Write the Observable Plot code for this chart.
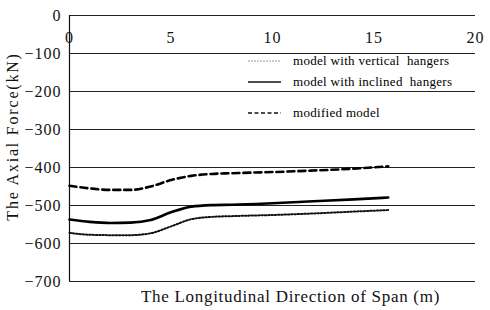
<!DOCTYPE html>
<html>
<head>
<meta charset="utf-8">
<script src="https://cdn.jsdelivr.net/npm/d3@7"></script>
<script src="https://cdn.jsdelivr.net/npm/@observablehq/plot@0.6"></script>
<style>
  html, body { margin: 0; padding: 0; background: #fff; }
  #wrap { position: relative; width: 490px; height: 310px; font-family: "Liberation Serif", "Times New Roman", serif; }
  #legend { position: absolute; left: 248px; top: 52px; font-size: 13px; color: #000; letter-spacing: 0.3px; }
  .item { position: absolute; left: 0; white-space: pre; display: flex; align-items: center; }
  .item svg { margin-right: 12px; }
  .ylab text, .xlab text { letter-spacing: 1px; }
  .ytitle text { letter-spacing: 1.8px; }
  .xtitle text { letter-spacing: 0.7px; }
</style>
</head>
<body>
<div id="wrap"></div>
<script>
// Data
const span = [0, 1, 2, 3, 4, 5, 6, 7, 8, 10, 12, 14, 15.7];
const verticalHangers = [-572, -577, -578, -578, -573, -555, -536, -530, -528, -525, -521, -516, -512];
const inclinedHangers = [-537, -543, -546, -545, -538, -518, -503, -499, -498, -494, -489, -484, -479];
const modifiedModel   = [-448, -455, -459, -459, -450, -433, -422, -417, -415, -412, -408, -403, -397];
const xTicks = [0, 5, 10, 15, 20];
const yTicks = [0, -100, -200, -300, -400, -500, -600, -700];
const seriesNames = ["model with vertical  hangers", "model with inclined  hangers", "modified model"];

const rows = (vals, name) => span.map((x, i) => ({x, y: vals[i], name}));
const dVert = rows(verticalHangers, seriesNames[0]);
const dIncl = rows(inclinedHangers, seriesNames[1]);
const dMod = rows(modifiedModel, seriesNames[2]);

const plot = Plot.plot({
  width: 490,
  height: 310,
  marginLeft: 69,
  marginRight: 15,
  marginTop: 15,
  marginBottom: 29,
  style: {fontFamily: "'Liberation Serif', 'Times New Roman', serif", fontSize: "16px", color: "#111", background: "#fff"},
  x: {domain: [0, 20]},
  y: {domain: [-700, 0]},
  marks: [
    Plot.ruleY(yTicks, {stroke: "#222", strokeWidth: 1}),
    Plot.ruleX([0], {stroke: "#111", strokeWidth: 1.2}),
    Plot.axisY({ticks: yTicks, tickSize: 0, tickPadding: 8, fontSize: 16, className: "ylab",
      tickFormat: d => d === 0 ? "0" : "\u2212" + Math.abs(d),
      label: null}),
    Plot.axisX({ticks: xTicks, anchor: "top", tickSize: 0, tickPadding: 0, dy: 27, fontSize: 16, className: "xlab", label: null, tickFormat: d => String(d)}),
    Plot.line(dVert, {x: "x", y: "y", curve: "monotone-x", stroke: "#111", strokeWidth: 2, strokeDasharray: "1.5,1.8"}),
    Plot.line(dIncl, {x: "x", y: "y", curve: "monotone-x", stroke: "#000", strokeWidth: 2.6}),
    Plot.line(dMod, {x: "x", y: "y", curve: "monotone-x", stroke: "#000", strokeWidth: 2.6, strokeDasharray: "7,4"}),
    Plot.text(["The Axial Force(kN)"], {frameAnchor: "left", textAnchor: "middle", lineAnchor: "middle", dx: -57, dy: -12, rotate: -90, fontSize: 16, text: d => d, className: "ytitle"}),
    Plot.text(["The Longitudinal Direction of Span (m)"], {frameAnchor: "bottom", textAnchor: "middle", lineAnchor: "middle", dy: 15, dx: 18, fontSize: 17, text: d => d, className: "xtitle"})
  ]
});

const wrap = document.getElementById("wrap");
wrap.appendChild(plot);

// Legend (HTML overlay)
const legend = document.createElement("div");
legend.id = "legend";
const samples = [
  {name: seriesNames[0], top: 1, stroke: "#999", width: 1, dash: "2,1"},
  {name: seriesNames[1], top: 22, stroke: "#111", width: 1.6, dash: ""},
  {name: seriesNames[2], top: 53, stroke: "#111", width: 1.6, dash: "4,2.5"}
];
for (const s of samples) {
  const it = document.createElement("div");
  it.className = "item";
  it.style.top = s.top + "px";
  it.innerHTML = `<svg width="33" height="16"><line x1="0" x2="33" y1="8" y2="8" stroke="${s.stroke}" stroke-width="${s.width}" ${s.dash ? `stroke-dasharray="${s.dash}"` : ""}/></svg><span>${s.name}</span>`;
  legend.appendChild(it);
}
wrap.appendChild(legend);
</script>
</body>
</html>
